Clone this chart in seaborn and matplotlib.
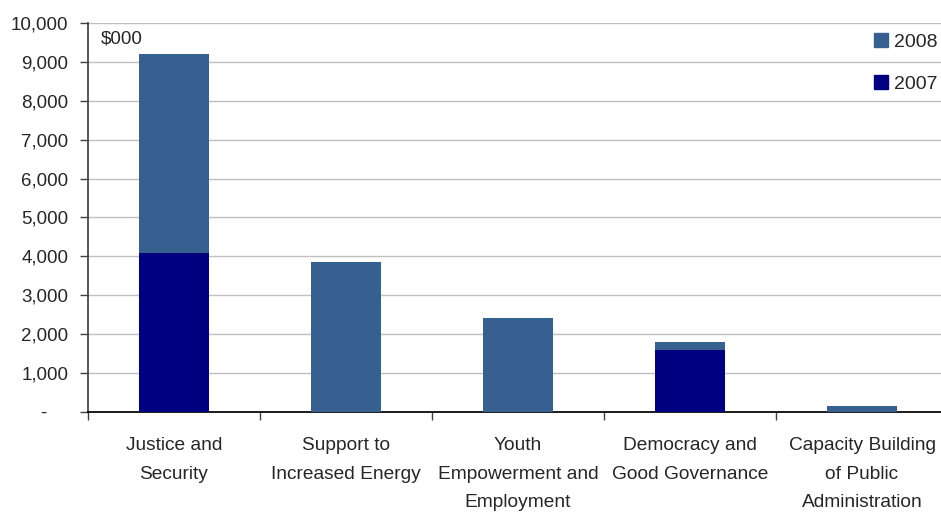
import numpy as np
import pandas as pd
import matplotlib
matplotlib.use("Agg")
import matplotlib.pyplot as plt
import seaborn as sns
from matplotlib.patches import Patch
from matplotlib.ticker import FuncFormatter

# ---- data ($000) ----
categories = ["Justice and\nSecurity", "Support to\nIncreased Energy",
              "Youth\nEmpowerment and\nEmployment", "Democracy and\nGood Governance",
              "Capacity Building\nof Public\nAdministration"]
v2007 = [4090, 0, 0, 1590, 0]
v2008 = [5110, 3860, 2420, 215, 155]
yticks = [0, 1000, 2000, 3000, 4000, 5000, 6000, 7000, 8000, 9000, 10000]

c2007 = "#000080"
c2008 = "#35608F"

df = pd.DataFrame({"cat": categories, "y2007": v2007, "y2008": v2008})
df["total"] = df["y2007"] + df["y2008"]

sns.set_theme(style="white")
plt.rcParams["font.family"] = ["Liberation Sans", "DejaVu Sans"]

fig = plt.figure(figsize=(9.41, 5.12), dpi=100)
ax = fig.add_axes([88 / 941, 100 / 512, 860 / 941, 389 / 512])

sns.barplot(data=df, x="cat", y="total", color=c2008, width=0.41,
            saturation=1, linewidth=0, ax=ax, zorder=3)
sns.barplot(data=df, x="cat", y="y2007", color=c2007, width=0.41,
            saturation=1, linewidth=0, ax=ax, zorder=4)

ax.set_xlim(-0.5, 4.5)
ax.set_ylim(0, 10000)
ax.set_yticks(yticks)
ax.yaxis.set_major_formatter(FuncFormatter(lambda v, p: "-    " if v == 0 else f"{v:,.0f}"))
ax.grid(axis="y", color="#c0c0c0", lw=1, zorder=0)
ax.set_axisbelow(True)

# category boundaries as ticks, labels at centres
ax.set_xticks(np.arange(len(categories) + 1) - 0.5)
ax.set_xticklabels([])
ax.set_xticks(np.arange(len(categories)), minor=True)
ax.set_xticklabels(categories, minor=True, fontsize=13.8, linespacing=1.9,
                   va="top")
ax.tick_params(axis="x", which="major", length=6, width=1, color="#404040",
               direction="out", bottom=True)
ax.tick_params(axis="x", which="minor", length=0, pad=18)
ax.tick_params(axis="y", length=6, width=1, color="#404040", direction="out",
               left=True, labelsize=13.5, pad=8)

ax.set_xlabel("")
ax.set_ylabel("")
for s in ["top", "right"]:
    ax.spines[s].set_visible(False)
ax.spines["left"].set_color("#404040")
ax.spines["bottom"].set_color("#000000")

ax.text(0.015, 0.96, "$000", transform=ax.transAxes, fontsize=13.5,
        va="center", ha="left")

handles = [Patch(color=c2008, label="2008"), Patch(color=c2007, label="2007")]
fig.legend(handles=handles, loc="upper left", bbox_to_anchor=(874 / 941, 1 - 33 / 512),
           frameon=False, fontsize=14, handlelength=0.7, handleheight=0.7,
           handletextpad=0.35, labelspacing=1.25, borderpad=0, borderaxespad=0)

fig.savefig("out.png", dpi=100)
